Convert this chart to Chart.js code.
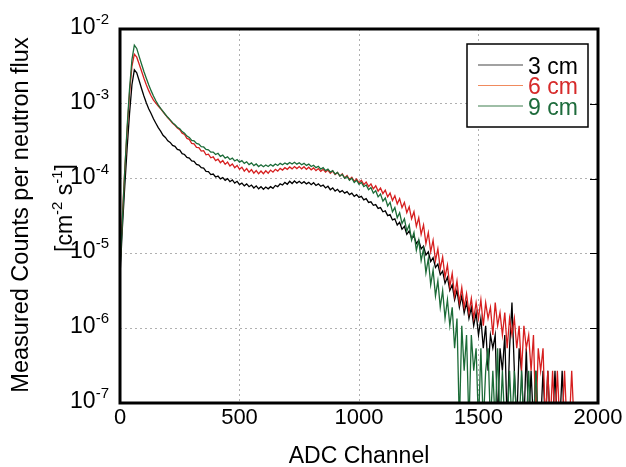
<!DOCTYPE html>
<html>
<head>
<meta charset="utf-8">
<script src="https://cdn.jsdelivr.net/npm/chart.js@4.4.1/dist/chart.umd.min.js"></script>
<style>
  body { margin: 0; background: #fff; }
</style>
</head>
<body>
<canvas id="chart" width="626" height="467"></canvas>
<script>
// one value every 10 ADC channels, starting at channel 0
const channelStep = 10;
// an empty channel: sits below the 1e-7 floor of the plot
const Z = 5e-8;

const labels = ["3 cm", "6 cm", "9 cm"];

const counts3cm = [
  5.0e-6, 2.2e-5, 8.0e-5, 2.6e-4, 7.5e-4, 1.8e-3, 2.85e-3, 2.6e-3, 2.05e-3, 1.6e-3,
  1.27e-3, 1.03e-3, 8.6e-4, 7.4e-4, 6.3e-4, 5.5e-4, 4.8e-4, 4.3e-4, 3.8e-4, 3.55e-4,
  3.2e-4, 3.05e-4, 2.78e-4, 2.7e-4, 2.45e-4, 2.4e-4, 2.15e-4, 2.1e-4, 1.92e-4, 1.88e-4,
  1.72e-4, 1.7e-4, 1.55e-4, 1.52e-4, 1.4e-4, 1.38e-4, 1.25e-4, 1.24e-4, 1.13e-4, 1.15e-4,
  1.05e-4, 1.08e-4, 9.9e-5, 1.03e-4, 9.5e-5, 1.0e-4, 9.1e-5, 9.6e-5, 8.7e-5, 9.2e-5,
  8.3e-5, 8.7e-5, 8.0e-5, 8.5e-5, 7.8e-5, 8.2e-5, 7.5e-5, 8.0e-5, 7.3e-5, 7.8e-5,
  7.2e-5, 7.7e-5, 7.3e-5, 7.8e-5, 7.4e-5, 8.1e-5, 7.8e-5, 8.5e-5, 8.2e-5, 8.9e-5,
  8.4e-5, 9.2e-5, 8.6e-5, 9.3e-5, 8.7e-5, 9.2e-5, 8.6e-5, 9.1e-5, 8.5e-5, 8.9e-5,
  8.3e-5, 8.8e-5, 8.1e-5, 8.5e-5, 7.9e-5, 8.2e-5, 7.5e-5, 7.9e-5, 7.1e-5, 7.5e-5,
  6.8e-5, 7.2e-5, 6.6e-5, 6.9e-5, 6.4e-5, 6.7e-5, 6.1e-5, 6.4e-5, 5.8e-5, 6.1e-5,
  5.6e-5, 5.8e-5, 5.2e-5, 5.4e-5, 4.8e-5, 4.9e-5, 4.4e-5, 4.5e-5, 4.0e-5, 4.1e-5,
  3.6e-5, 3.7e-5, 3.2e-5, 3.3e-5, 2.8e-5, 2.9e-5, 2.4e-5, 2.6e-5, 2.1e-5, 2.3e-5,
  1.8e-5, 2.0e-5, 1.6e-5, 1.7e-5, 1.35e-5, 1.5e-5, 1.15e-5, 1.25e-5, 9.5e-6, 1.05e-5,
  7.8e-6, 8.8e-6, 6.5e-6, 7.2e-6, 5.2e-6, 5.8e-6, 4.0e-6, 4.8e-6, 3.2e-6, 3.8e-6,
  2.4e-6, 3.2e-6, 1.9e-6, 2.7e-6, 1.6e-6, 2.2e-6, 1.35e-6, 1.9e-6, 1.08e-6, 1.6e-6,
  8.1e-7, 1.35e-6, 5.4e-7, 1.08e-6, 2.7e-7, 8.1e-7, 5.4e-7, 8.1e-7, Z, 5.4e-7,
  2.7e-7, 8.1e-7, Z, 5.4e-7, 2.2e-6, 2.7e-7, Z, 5.4e-7, 2.7e-7, Z,
  5.4e-7, Z, 2.7e-7, Z, 2.7e-7, Z, Z, 2.7e-7, Z, 2.7e-7,
  Z, Z, 2.7e-7, Z, Z, 2.7e-7, Z
];

const counts6cm = [
  7.0e-6, 3.2e-5, 1.3e-4, 4.5e-4, 1.4e-3, 3.2e-3, 4.6e-3, 4.2e-3, 3.4e-3, 2.75e-3,
  2.2e-3, 1.8e-3, 1.5e-3, 1.28e-3, 1.12e-3, 1.02e-3, 9.3e-4, 8.6e-4, 7.8e-4, 7.1e-4,
  6.5e-4, 6.0e-4, 5.5e-4, 5.15e-4, 4.75e-4, 4.5e-4, 4.05e-4, 3.9e-4, 3.45e-4, 3.35e-4,
  2.95e-4, 2.92e-4, 2.62e-4, 2.6e-4, 2.33e-4, 2.36e-4, 2.08e-4, 2.12e-4, 1.9e-4, 1.95e-4,
  1.74e-4, 1.82e-4, 1.63e-4, 1.74e-4, 1.55e-4, 1.66e-4, 1.47e-4, 1.57e-4, 1.4e-4, 1.5e-4,
  1.33e-4, 1.42e-4, 1.26e-4, 1.36e-4, 1.22e-4, 1.32e-4, 1.18e-4, 1.28e-4, 1.16e-4, 1.26e-4,
  1.16e-4, 1.27e-4, 1.18e-4, 1.3e-4, 1.22e-4, 1.33e-4, 1.26e-4, 1.37e-4, 1.3e-4, 1.4e-4,
  1.33e-4, 1.43e-4, 1.35e-4, 1.45e-4, 1.36e-4, 1.45e-4, 1.35e-4, 1.44e-4, 1.33e-4, 1.42e-4,
  1.31e-4, 1.39e-4, 1.28e-4, 1.36e-4, 1.25e-4, 1.33e-4, 1.22e-4, 1.3e-4, 1.18e-4, 1.26e-4,
  1.13e-4, 1.21e-4, 1.08e-4, 1.16e-4, 1.02e-4, 1.1e-4, 9.7e-5, 1.04e-4, 9.2e-5, 9.9e-5,
  8.8e-5, 9.5e-5, 8.3e-5, 9.0e-5, 7.8e-5, 8.5e-5, 7.3e-5, 8.0e-5, 6.8e-5, 7.5e-5,
  6.3e-5, 7.0e-5, 5.7e-5, 6.4e-5, 5.1e-5, 5.9e-5, 4.6e-5, 5.4e-5, 4.1e-5, 4.8e-5,
  3.5e-5, 4.2e-5, 2.9e-5, 3.6e-5, 2.3e-5, 3.0e-5, 1.8e-5, 2.4e-5, 1.35e-5, 1.9e-5,
  1.05e-5, 1.5e-5, 8.0e-6, 1.15e-5, 6.2e-6, 9.0e-6, 4.8e-6, 7.0e-6, 3.6e-6, 5.4e-6,
  2.7e-6, 4.3e-6, 2.2e-6, 3.5e-6, 1.9e-6, 2.9e-6, 1.6e-6, 2.5e-6, 1.35e-6, 2.2e-6,
  1.35e-6, 2.4e-6, 1.08e-6, 2.2e-6, 1.35e-6, 1.9e-6, 8.1e-7, 2.2e-6, 1.08e-6, 1.62e-6,
  8.1e-7, 1.62e-6, 5.4e-7, 1.35e-6, 8.1e-7, 1.35e-6, 5.4e-7, 1.08e-6, 2.7e-7, 1.08e-6,
  5.4e-7, 8.1e-7, 2.7e-7, 8.1e-7, Z, 5.4e-7, 2.7e-7, 5.4e-7, Z, 2.7e-7,
  Z, 2.7e-7, Z, 2.7e-7, Z, Z, 2.7e-7, Z, Z, 2.7e-7,
  Z
];

const counts9cm = [
  6.0e-6, 2.8e-5, 1.3e-4, 5.0e-4, 1.6e-3, 3.9e-3, 6.1e-3, 5.5e-3, 4.3e-3, 3.4e-3,
  2.7e-3, 2.2e-3, 1.8e-3, 1.5e-3, 1.27e-3, 1.1e-3, 9.7e-4, 8.7e-4, 7.9e-4, 7.2e-4,
  6.6e-4, 6.1e-4, 5.6e-4, 5.25e-4, 4.85e-4, 4.65e-4, 4.25e-4, 4.05e-4, 3.7e-4, 3.55e-4,
  3.25e-4, 3.2e-4, 2.95e-4, 2.9e-4, 2.68e-4, 2.65e-4, 2.45e-4, 2.42e-4, 2.26e-4, 2.26e-4,
  2.1e-4, 2.18e-4, 1.98e-4, 2.06e-4, 1.88e-4, 1.96e-4, 1.8e-4, 1.88e-4, 1.72e-4, 1.8e-4,
  1.66e-4, 1.74e-4, 1.6e-4, 1.68e-4, 1.54e-4, 1.62e-4, 1.49e-4, 1.57e-4, 1.45e-4, 1.53e-4,
  1.44e-4, 1.52e-4, 1.45e-4, 1.54e-4, 1.47e-4, 1.57e-4, 1.5e-4, 1.6e-4, 1.53e-4, 1.62e-4,
  1.55e-4, 1.64e-4, 1.57e-4, 1.65e-4, 1.56e-4, 1.63e-4, 1.53e-4, 1.6e-4, 1.5e-4, 1.56e-4,
  1.45e-4, 1.51e-4, 1.4e-4, 1.46e-4, 1.34e-4, 1.4e-4, 1.28e-4, 1.34e-4, 1.22e-4, 1.28e-4,
  1.15e-4, 1.21e-4, 1.08e-4, 1.14e-4, 1.01e-4, 1.07e-4, 9.5e-5, 1.01e-4, 8.9e-5, 9.5e-5,
  8.4e-5, 8.9e-5, 7.8e-5, 8.2e-5, 7.1e-5, 7.6e-5, 6.4e-5, 6.9e-5, 5.7e-5, 6.2e-5,
  5.0e-5, 5.5e-5, 4.3e-5, 4.8e-5, 3.6e-5, 4.1e-5, 3.0e-5, 3.5e-5, 2.5e-5, 2.9e-5,
  2.0e-5, 2.4e-5, 1.5e-5, 1.9e-5, 1.1e-5, 1.5e-5, 8.0e-6, 1.15e-5, 5.5e-6, 8.5e-6,
  3.8e-6, 6.0e-6, 2.7e-6, 4.3e-6, 1.9e-6, 3.2e-6, 1.35e-6, 2.4e-6, 1.08e-6, 1.9e-6,
  5.4e-7, 1.35e-6, Z, 1.08e-6, 2.7e-7, 8.1e-7, Z, 8.1e-7, 2.7e-7, 5.4e-7,
  Z, 5.4e-7, Z, 2.7e-7, 5.4e-7, Z, 2.7e-7, Z, 5.4e-7, Z,
  2.7e-7, Z, Z, 2.7e-7, Z, 2.7e-7, Z, Z, 2.7e-7, Z,
  Z, 2.7e-7, Z, Z, 2.7e-7, Z
];

const xTicks = [0, 500, 1000, 1500, 2000];
const yTickExponents = [-7, -6, -5, -4, -3, -2];

const FONT = '"Liberation Sans", Arial, Helvetica, sans-serif';

function toPoints(values) {
  return values.map((v, i) => ({ x: i * channelStep, y: v }));
}

// "10" with a raised exponent, right edge at x
function drawPower(ctx, exp, x, y) {
  ctx.font = `23px ${FONT}`;
  const bw = ctx.measureText("10").width;
  ctx.font = `15px ${FONT}`;
  const sup = String(exp);
  const sw = ctx.measureText(sup).width;
  ctx.textAlign = "left";
  ctx.textBaseline = "alphabetic";
  ctx.fillText(sup, x - sw, y - 10);
  ctx.font = `23px ${FONT}`;
  ctx.fillText("10", x - sw - bw, y);
}

const decorations = {
  id: "decorations",
  afterDraw(chart) {
    const ctx = chart.ctx;
    const area = chart.chartArea;
    const xs = chart.scales.x;
    const ys = chart.scales.y;
    ctx.save();
    ctx.fillStyle = "#000";

    // y tick labels
    yTickExponents.forEach((e) => {
      const py = ys.getPixelForValue(Math.pow(10, e));
      drawPower(ctx, e, 109, py + 5);
    });

    // x tick labels
    ctx.font = `22px ${FONT}`;
    ctx.textAlign = "center";
    ctx.textBaseline = "alphabetic";
    xTicks.forEach((t) => {
      ctx.fillText(String(t), xs.getPixelForValue(t), area.bottom + 21);
    });

    // axis titles
    ctx.font = `23px ${FONT}`;
    ctx.fillText("ADC Channel", (area.left + area.right) / 2, 463);

    ctx.save();
    ctx.translate(28, 215);
    ctx.rotate(-Math.PI / 2);
    ctx.font = `23.5px ${FONT}`;
    ctx.textAlign = "center";
    ctx.fillText("Measured Counts per neutron flux", 0, 0);
    ctx.restore();

    ctx.save();
    ctx.translate(72, 208);
    ctx.rotate(-Math.PI / 2);
    const parts = [["[cm", 0], ["-2", 1], [" s", 0], ["-1", 1], ["]", 0]];
    let total = 0;
    parts.forEach(([t, s]) => {
      ctx.font = s ? `15px ${FONT}` : `23px ${FONT}`;
      total += ctx.measureText(t).width;
    });
    let cx = -total / 2;
    ctx.textAlign = "left";
    parts.forEach(([t, s]) => {
      ctx.font = s ? `15px ${FONT}` : `23px ${FONT}`;
      ctx.fillText(t, cx, s ? -10 : 0);
      cx += ctx.measureText(t).width;
    });
    ctx.restore();

    // inner ticks on the right edge
    ctx.strokeStyle = "#000";
    ctx.lineWidth = 1;
    yTickExponents.forEach((e) => {
      const py = Math.round(ys.getPixelForValue(Math.pow(10, e))) + 0.5;
      ctx.beginPath();
      ctx.moveTo(area.right - 8, py);
      ctx.lineTo(area.right, py);
      ctx.stroke();
    });

    // frame
    ctx.lineWidth = 3;
    ctx.strokeRect(area.left, area.top, area.right - area.left, area.bottom - area.top);

    // legend
    const lx = 467, ly = 44, lw = 121, lh = 83;
    ctx.fillStyle = "#fff";
    ctx.fillRect(lx, ly, lw, lh);
    ctx.lineWidth = 1.5;
    ctx.strokeStyle = "#000";
    ctx.strokeRect(lx, ly, lw, lh);
    ctx.font = `23px ${FONT}`;
    ctx.textAlign = "left";
    chart.data.datasets.forEach((ds, i) => {
      const rowY = 65 + i * 20.5;
      ctx.strokeStyle = ds.legendLine;
      ctx.lineWidth = 1.2;
      ctx.beginPath();
      ctx.moveTo(478, rowY);
      ctx.lineTo(523, rowY);
      ctx.stroke();
      ctx.fillStyle = ds.legendText;
      ctx.fillText(ds.label, 528, rowY + 8.5);
    });

    ctx.restore();
  }
};

new Chart(document.getElementById("chart"), {
  type: "line",
  data: {
    datasets: [
      {
        label: labels[0],
        data: toPoints(counts3cm),
        borderColor: "#000000",
        legendLine: "#444444",
        legendText: "#000000",
        order: 3,
      },
      {
        label: labels[1],
        data: toPoints(counts6cm),
        borderColor: "#d61f1f",
        legendLine: "#f08a5d",
        legendText: "#d62a2a",
        order: 2,
      },
      {
        label: labels[2],
        data: toPoints(counts9cm),
        borderColor: "#1b6b37",
        legendLine: "#3f7f4f",
        legendText: "#1d6b3b",
        order: 1,
      },
    ],
  },
  options: {
    responsive: false,
    animation: false,
    devicePixelRatio: 1,
    layout: { padding: { top: 29, right: 28, left: 0, bottom: 0 } },
    elements: {
      line: { borderWidth: 1.3, tension: 0 },
      point: { radius: 0 },
    },
    plugins: {
      legend: { display: false },
      tooltip: { enabled: false },
    },
    scales: {
      x: {
        type: "linear",
        min: 0,
        max: 2000,
        afterBuildTicks: (scale) => {
          scale.ticks = xTicks.map((v) => ({ value: v }));
        },
        afterFit: (scale) => {
          scale.height = 64;
        },
        ticks: { display: false },
        grid: { color: "#b0b0b0", lineWidth: 1, drawTicks: false },
        border: { display: false, dash: [2, 3] },
      },
      y: {
        type: "logarithmic",
        min: 1e-7,
        max: 1e-2,
        afterBuildTicks: (scale) => {
          scale.ticks = yTickExponents.map((e) => ({ value: Math.pow(10, e) }));
        },
        afterFit: (scale) => {
          scale.width = 120;
        },
        ticks: { display: false },
        grid: { color: "#b0b0b0", lineWidth: 1, drawTicks: false },
        border: { display: false, dash: [2, 3] },
      },
    },
  },
  plugins: [decorations],
});
</script>
</body>
</html>
